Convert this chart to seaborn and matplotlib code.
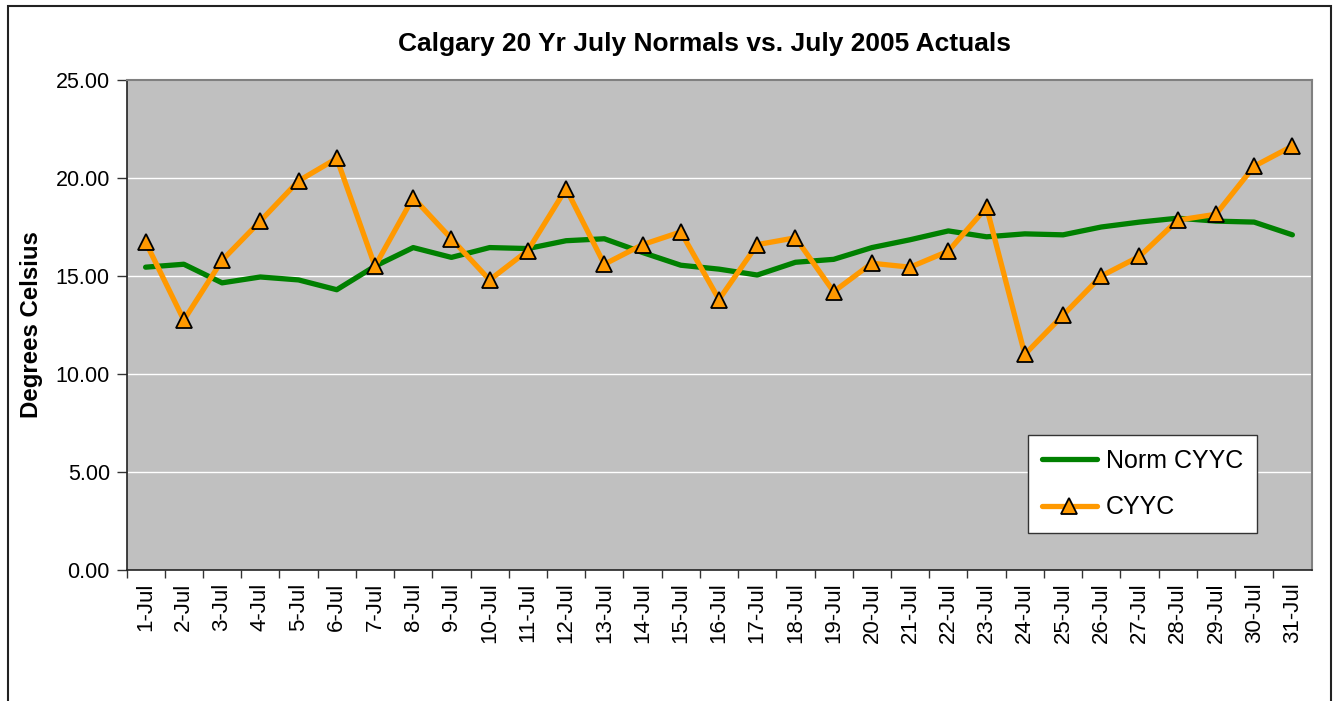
import numpy as np
import pandas as pd
import matplotlib
matplotlib.use("Agg")
import matplotlib.pyplot as plt
import seaborn as sns
from matplotlib.patches import Rectangle
from matplotlib.ticker import FixedLocator

sns.set_style("white")
plt.rcParams['font.family'] = ['Liberation Sans', 'DejaVu Sans']
plt.rcParams['text.color'] = 'black'
plt.rcParams['xtick.color'] = 'black'
plt.rcParams['ytick.color'] = 'black'
plt.rcParams['axes.labelcolor'] = 'black'

# ---- data ----
days = list(range(1, 32))
day_labels = [f"{d}-Jul" for d in days]
norm_cyyc = [15.45, 15.6, 14.65, 14.95, 14.8, 14.3, 15.5, 16.45, 15.95, 16.45,
             16.4, 16.8, 16.9, 16.2, 15.55, 15.35, 15.05, 15.7, 15.85, 16.45,
             16.85, 17.3, 17.0, 17.15, 17.1, 17.5, 17.75, 17.95, 17.8, 17.75,
             17.1]
cyyc = [16.73, 12.75, 15.8, 17.8, 19.85, 21.0, 15.5, 19.0, 16.9, 14.8,
        16.3, 19.45, 15.6, 16.6, 17.25, 13.8, 16.6, 16.95, 14.2, 15.65,
        15.45, 16.27, 18.5, 11.0, 13.0, 15.0, 16.0, 17.85, 18.15, 20.6,
        21.63]
yticks = [0, 5, 10, 15, 20, 25]

df = pd.DataFrame({"day": days, "Norm CYYC": norm_cyyc, "CYYC": cyyc})

W, H = 1333, 701
fig = plt.figure(figsize=(W / 100, H / 100), dpi=100)

# outer chart border
fig.patches.append(Rectangle((8 / W, -0.02), (1331 - 8) / W, (H - 6) / H + 0.02,
                             transform=fig.transFigure, fill=False,
                             edgecolor="#222222", linewidth=1.5))

left, right, top, bottom = 126.5, 1311.5, 80, 570
ax = fig.add_axes([left / W, (H - bottom) / H, (right - left) / W, (bottom - top) / H])
ax.set_facecolor("#C0C0C0")

for v in yticks[1:-1]:
    ax.axhline(v, color="white", linewidth=1.0, zorder=0.5)

sns.lineplot(data=df, x="day", y="Norm CYYC", ax=ax, color="#008000",
             linewidth=3.8, label="Norm CYYC", solid_joinstyle="round",
             solid_capstyle="round", zorder=3)
sns.lineplot(data=df, x="day", y="CYYC", ax=ax, color="#FF9900",
             linewidth=3.8, marker="^", markersize=11,
             markerfacecolor="#FF9900", markeredgecolor="black",
             markeredgewidth=1.3, label="CYYC", zorder=4)

ax.set_xlim(0.5, 31.5)
ax.set_ylim(0, 25)

ax.set_yticks(yticks)
ax.set_yticklabels([f"{v:.2f}" for v in yticks], fontsize=15.5)
ax.set_xticks(days)
ax.set_xticklabels(day_labels, rotation=90, fontsize=16)
ax.xaxis.set_minor_locator(FixedLocator([d + 0.5 for d in range(0, 31)]))
ax.tick_params(axis="x", which="major", length=0, pad=9)
ax.tick_params(axis="x", which="minor", length=6, width=1, color="#333333", bottom=True)
ax.tick_params(axis="y", which="major", length=7, width=1, color="#333333",
               pad=5, left=True)

for s in ["top", "right"]:
    ax.spines[s].set_color("#808080")
    ax.spines[s].set_linewidth(1.5)
for s in ["left", "bottom"]:
    ax.spines[s].set_color("#222222")
    ax.spines[s].set_linewidth(1.2)

ax.set_xlabel("")
ax.set_ylabel("Degrees Celsius", fontsize=17.3, fontweight="bold")
ax.yaxis.set_label_coords(-(126.5 - 43) / (right - left), 0.5)

fig.text(704 / W, 1 - 44 / H, "Calgary 20 Yr July Normals vs. July 2005 Actuals",
         ha="center", va="center", fontsize=19, fontweight="bold")

leg = ax.legend(loc="lower left",
                bbox_to_anchor=((1028 - left) / (right - left), (bottom - 533) / (bottom - top)),
                fontsize=18, frameon=True, fancybox=False, handlelength=2.2,
                labelspacing=0.9, borderpad=0.55, handletextpad=0.35,
                borderaxespad=0)
leg.get_frame().set_edgecolor("#333333")
leg.get_frame().set_linewidth(1.0)
leg.get_frame().set_facecolor("white")
leg.get_frame().set_alpha(1)

fig.savefig("out.png", dpi=100)
